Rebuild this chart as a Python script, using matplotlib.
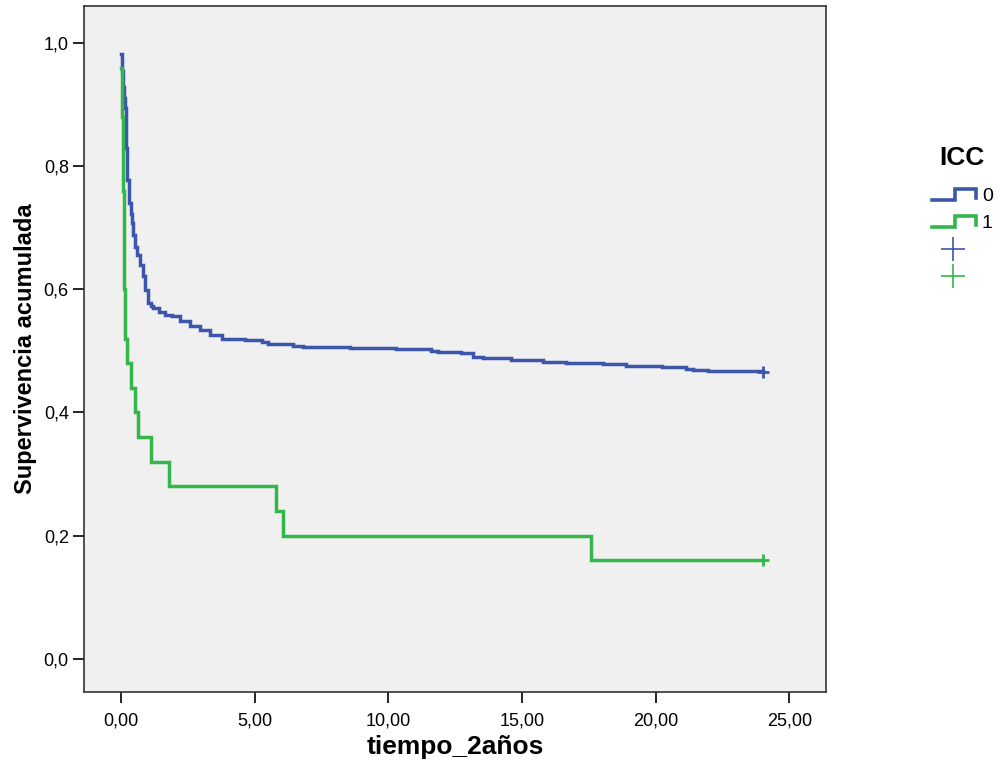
import matplotlib.pyplot as plt
from matplotlib.ticker import FuncFormatter

# Kaplan-Meier curves (time, survival after step)
icc0_t = [0.0, 0.04, 0.07, 0.10, 0.14, 0.18, 0.19, 0.20, 0.22, 0.30, 0.35, 0.39, 0.45,
          0.51, 0.60, 0.70, 0.82, 0.89, 1.01, 1.10, 1.20, 1.40, 1.63, 1.89, 2.20, 2.57,
          2.94, 3.32, 3.76, 4.63, 5.25, 5.49, 6.42, 6.80, 8.56, 10.30, 11.60, 11.86,
          12.73, 13.15, 13.54, 14.60, 15.79, 16.66, 18.03, 18.90, 20.24, 21.13, 21.40,
          21.96]
icc0_s = [0.983, 0.955, 0.929, 0.910, 0.894, 0.864, 0.830, 0.800, 0.778, 0.740, 0.722,
          0.708, 0.688, 0.669, 0.655, 0.640, 0.621, 0.599, 0.578, 0.573, 0.570, 0.563,
          0.558, 0.556, 0.549, 0.540, 0.534, 0.526, 0.519, 0.517, 0.514, 0.511, 0.508,
          0.506, 0.504, 0.503, 0.500, 0.498, 0.496, 0.490, 0.488, 0.486, 0.482, 0.480,
          0.478, 0.476, 0.474, 0.471, 0.469, 0.467]
icc0_cens = (24.0, 0.466)

icc1_t = [0.0, 0.02, 0.03, 0.05, 0.06, 0.08, 0.09, 0.10, 0.11, 0.12, 0.13, 0.15, 0.22,
          0.36, 0.51, 0.64, 1.10, 1.78, 5.79, 6.05, 17.57]
icc1_s = [0.96, 0.92, 0.88, 0.84, 0.80, 0.76, 0.72, 0.68, 0.64, 0.60, 0.56, 0.52, 0.48,
          0.44, 0.40, 0.36, 0.32, 0.28, 0.24, 0.20, 0.16]
icc1_cens = (24.0, 0.16)

groups = ['0', '1']
colors = ['#3c56ab', '#33b64a']

plt.rcParams['font.family'] = ['Liberation Sans', 'DejaVu Sans']

fig = plt.figure(figsize=(10.04, 7.65), dpi=100)
ax = fig.add_axes([0.0837, 0.0954, 0.7390, 0.8966])
ax.set_facecolor('#f0f0f0')

for t, s, cens, c in [(icc0_t, icc0_s, icc0_cens, colors[0]),
                      (icc1_t, icc1_s, icc1_cens, colors[1])]:
    xs = list(t) + [cens[0]]
    ys = list(s) + [s[-1]]
    ax.step(xs, ys, where='post', color=c, lw=2.5, solid_joinstyle='miter')
    ax.plot(cens[0], cens[1], marker='+', color=c, ms=9, mew=2)

ax.set_xlim(-1.39, 26.37)
ax.set_ylim(-0.054, 1.060)
ax.set_xticks([0, 5, 10, 15, 20, 25])
ax.set_yticks([0, 0.2, 0.4, 0.6, 0.8, 1.0])
ax.xaxis.set_major_formatter(FuncFormatter(lambda v, p: f'{v:.2f}'.replace('.', ',')))
ax.yaxis.set_major_formatter(FuncFormatter(lambda v, p: f'{v:.1f}'.replace('.', ',')))
ax.tick_params(direction='out', length=8, width=1.2, labelsize=13)
ax.tick_params(axis='x', pad=7)
ax.tick_params(axis='y', pad=3)
for sp in ax.spines.values():
    sp.set_linewidth(1.2)
    sp.set_color('#333333')

ax.set_xlabel('tiempo_2años', fontsize=19, fontweight='bold')
ax.set_ylabel('Supervivencia acumulada', fontsize=17, fontweight='bold')
ax.xaxis.set_label_coords(0.5, -0.062)
ax.yaxis.set_label_coords(-0.063, 0.5)

# legend drawn in figure pixel coordinates
lg = fig.add_axes([0, 0, 1, 1])
lg.set_xlim(0, 1004)
lg.set_ylim(765, 0)
lg.axis('off')
lg.text(962, 158, 'ICC', fontsize=19, fontweight='bold', ha='center', va='center')
for i, (g, c) in enumerate(zip(groups, colors)):
    y0 = 200 + i * 27
    lg.plot([932, 955, 955, 976, 976], [y0, y0, y0 - 11, y0 - 11, y0 - 2],
            color=c, lw=2.6, solid_joinstyle='miter')
    lg.text(982, y0 - 4, g, fontsize=14, va='center', ha='left')
    lg.plot(953, 249 + i * 27, marker='+', color=c, ms=17, mew=1.2)

fig.savefig('out.png', dpi=100)
